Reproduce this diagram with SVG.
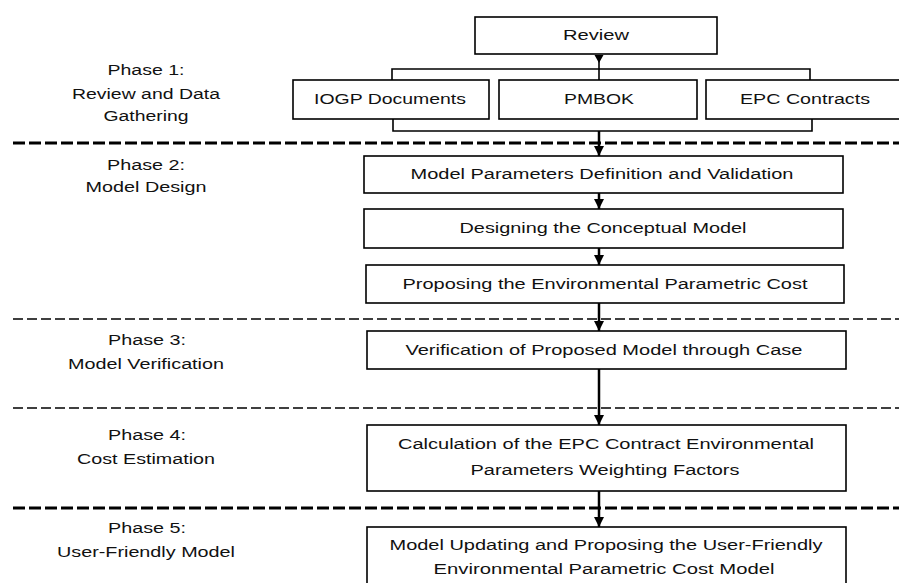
<svg xmlns="http://www.w3.org/2000/svg" width="899" height="583" viewBox="0 0 899 583">
<style>
.box{fill:#fff;stroke:#000;stroke-width:1.6}
.t{font-family:"Liberation Sans",Arial,sans-serif;font-size:14px;fill:#111;text-anchor:middle}
.c{fill:none;stroke:#000;stroke-width:1.6}
.a{fill:none;stroke:#000;stroke-width:2.5}
.dk{fill:none;stroke:#000;stroke-width:3;stroke-dasharray:12 4}
.dt{fill:none;stroke:#000;stroke-width:1.5;stroke-dasharray:10 4}
</style>
<defs>
<marker id="ah" markerUnits="userSpaceOnUse" markerWidth="11" markerHeight="11" refX="10" refY="5" orient="auto">
<path d="M0,0 L10,5 L0,10 z" fill="#000"/>
</marker>
</defs>
<g id="dividers">
<line class="dk" x1="13" y1="143" x2="899" y2="143"/>
<line class="dt" x1="13" y1="319" x2="899" y2="319"/>
<line class="dt" x1="13" y1="408" x2="899" y2="408"/>
<line class="dk" x1="13" y1="508" x2="899" y2="508"/>
</g>
<g id="phase-labels">
<text class="t" x="146" y="75" textLength="77" lengthAdjust="spacingAndGlyphs">Phase 1:</text>
<text class="t" x="146" y="99" textLength="148" lengthAdjust="spacingAndGlyphs">Review and Data</text>
<text class="t" x="146" y="121" textLength="85" lengthAdjust="spacingAndGlyphs">Gathering</text>
<text class="t" x="146" y="170" textLength="78" lengthAdjust="spacingAndGlyphs">Phase 2:</text>
<text class="t" x="146" y="192" textLength="121" lengthAdjust="spacingAndGlyphs">Model Design</text>
<text class="t" x="147" y="345" textLength="78" lengthAdjust="spacingAndGlyphs">Phase 3:</text>
<text class="t" x="146" y="369" textLength="156" lengthAdjust="spacingAndGlyphs">Model Verification</text>
<text class="t" x="147" y="440" textLength="78" lengthAdjust="spacingAndGlyphs">Phase 4:</text>
<text class="t" x="146" y="464" textLength="138" lengthAdjust="spacingAndGlyphs">Cost Estimation</text>
<text class="t" x="147" y="533" textLength="78" lengthAdjust="spacingAndGlyphs">Phase 5:</text>
<text class="t" x="146" y="557" textLength="178" lengthAdjust="spacingAndGlyphs">User-Friendly Model</text>
</g>
<g id="connectors">
<path class="c" d="M392,80 V69 H810 V80"/>
<path class="c" d="M393,119 V131 H812 V119"/>
<line class="c" x1="599" y1="55" x2="599" y2="80"/>
<polygon points="594.5,55 603.5,55 599,63" fill="#000"/>
<line class="a" x1="599" y1="131" x2="599" y2="156" marker-end="url(#ah)"/>
<line class="a" x1="599" y1="193" x2="599" y2="209" marker-end="url(#ah)"/>
<line class="a" x1="599" y1="248" x2="599" y2="265" marker-end="url(#ah)"/>
<line class="a" x1="599" y1="303" x2="599" y2="331" marker-end="url(#ah)"/>
<line class="a" x1="599" y1="369" x2="599" y2="425" marker-end="url(#ah)"/>
<line class="a" x1="599" y1="491" x2="599" y2="527" marker-end="url(#ah)"/>
</g>
<g id="review">
<rect class="box" x="475" y="17" width="242" height="37"/>
<text class="t" x="596" y="40" textLength="66" lengthAdjust="spacingAndGlyphs">Review</text>
</g>
<g id="iogp">
<rect class="box" x="293" y="80" width="196" height="39"/>
<text class="t" x="390" y="104" textLength="152" lengthAdjust="spacingAndGlyphs">IOGP Documents</text>
</g>
<g id="pmbok">
<rect class="box" x="499" y="80" width="198" height="39"/>
<text class="t" x="599" y="104" textLength="70" lengthAdjust="spacingAndGlyphs">PMBOK</text>
</g>
<g id="epc">
<rect class="box" x="706" y="80" width="200" height="39"/>
<text class="t" x="805" y="104" textLength="130" lengthAdjust="spacingAndGlyphs">EPC Contracts</text>
</g>
<g id="params">
<rect class="box" x="364" y="156" width="479" height="37"/>
<text class="t" x="602" y="179" textLength="383" lengthAdjust="spacingAndGlyphs">Model Parameters Definition and Validation</text>
</g>
<g id="conceptual">
<rect class="box" x="364" y="209" width="479" height="39"/>
<text class="t" x="603" y="233" textLength="287" lengthAdjust="spacingAndGlyphs">Designing the Conceptual Model</text>
</g>
<g id="proposing">
<rect class="box" x="366" y="265" width="478" height="38"/>
<text class="t" x="605" y="289" textLength="405" lengthAdjust="spacingAndGlyphs">Proposing the Environmental Parametric Cost</text>
</g>
<g id="verification">
<rect class="box" x="367" y="331" width="479" height="38"/>
<text class="t" x="604" y="355" textLength="397" lengthAdjust="spacingAndGlyphs">Verification of Proposed Model through Case</text>
</g>
<g id="calculation">
<rect class="box" x="367" y="425" width="479" height="66"/>
<text class="t" x="606" y="449" textLength="416" lengthAdjust="spacingAndGlyphs">Calculation of the EPC Contract Environmental</text>
<text class="t" x="605" y="475" textLength="269" lengthAdjust="spacingAndGlyphs">Parameters Weighting Factors</text>
</g>
<g id="updating">
<rect class="box" x="367" y="527" width="479" height="70"/>
<text class="t" x="606" y="550" textLength="433" lengthAdjust="spacingAndGlyphs">Model Updating and Proposing the User-Friendly</text>
<text class="t" x="604" y="574" textLength="341" lengthAdjust="spacingAndGlyphs">Environmental Parametric Cost Model</text>
</g>
</svg>
